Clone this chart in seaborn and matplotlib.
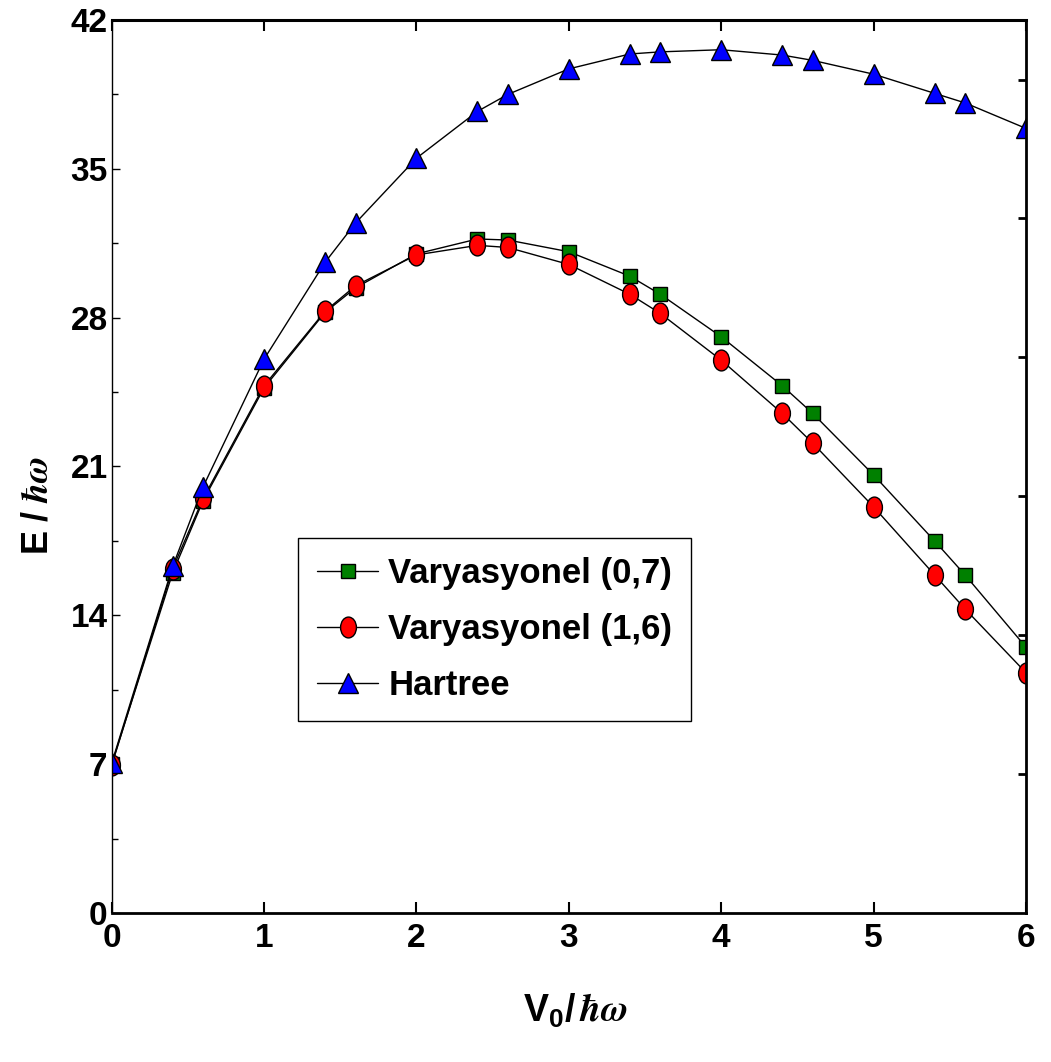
import numpy as np
import pandas as pd
import matplotlib
matplotlib.use("Agg")
import matplotlib.pyplot as plt
import seaborn as sns
from matplotlib.path import Path
from matplotlib.ticker import MultipleLocator, FixedLocator
from matplotlib import font_manager

# ---- data ----
v0 = [0.0, 0.4, 0.6, 1.0, 1.4, 1.6, 2.0, 2.4, 2.6, 3.0, 3.4, 3.6, 4.0, 4.4, 4.6, 5.0, 5.4, 5.6, 6.0]
var_07 = [7.0, 16.0, 19.4, 24.7, 28.25, 29.4, 31.0, 31.7, 31.65, 31.1, 29.95, 29.1, 27.1, 24.8, 23.5, 20.6, 17.5, 15.9, 12.5]
var_16 = [6.95, 16.2, 19.5, 24.8, 28.3, 29.5, 30.95, 31.4, 31.3, 30.5, 29.1, 28.2, 26.0, 23.5, 22.1, 19.1, 15.9, 14.3, 11.3]
hartree = [7.05, 16.3, 20.05, 26.05, 30.6, 32.45, 35.5, 37.7, 38.5, 39.7, 40.4, 40.5, 40.6, 40.35, 40.1, 39.45, 38.55, 38.1, 36.9]

labels = ["Varyasyonel (0,7)", "Varyasyonel (1,6)", "Hartree"]
x_ticks = [0, 1, 2, 3, 4, 5, 6]
y_ticks = [0, 7, 14, 21, 28, 35, 42]
right_ticks = [7, 14, 21, 28, 35, 42]

sns.set_theme(style="white")
names = {f.name for f in font_manager.fontManager.ttflist}
narrow = "Liberation Sans Narrow" in names
main_font = "Liberation Sans Narrow" if narrow else "Liberation Sans"
plt.rcParams["font.family"] = [main_font, "Liberation Sans", "DejaVu Sans"]
plt.rcParams["font.weight"] = "bold"
for k in ["text.color", "axes.labelcolor", "xtick.color", "ytick.color", "axes.edgecolor"]:
    plt.rcParams[k] = "black"
plt.rcParams["mathtext.fontset"] = "custom"
plt.rcParams["mathtext.rm"] = "Liberation Sans:bold"
plt.rcParams["mathtext.bf"] = "Liberation Sans:bold"
plt.rcParams["mathtext.it"] = "STIXGeneral:italic"

df = pd.DataFrame({"v0": v0, "var07": var_07, "var16": var_16, "hartree": hartree})

fig = plt.figure(figsize=(10.51, 10.62), dpi=100)
ax = fig.add_axes([0.1063, 0.1403, 0.8699, 0.8409])

circ = Path.unit_circle()
ellipse = Path(circ.vertices * np.array([0.76, 1.0]), circ.codes)

common = dict(color="black", linewidth=1.0, markeredgecolor="black",
              markeredgewidth=1.0, errorbar=None, ax=ax)
sns.lineplot(data=df, x="v0", y="var07", marker="s", markersize=10,
             markerfacecolor="#008000", label=labels[0], **common)
sns.lineplot(data=df, x="v0", y="var16", marker=ellipse, markersize=15,
             markerfacecolor="#ff0000", label=labels[1], **common)
sns.lineplot(data=df, x="v0", y="hartree", marker="^", markersize=15,
             markerfacecolor="#0000ff", label=labels[2], **common)

ax.set_xlim(0, 6)
ax.set_ylim(0, 42)
ax.xaxis.set_major_locator(FixedLocator(x_ticks))
ax.yaxis.set_major_locator(FixedLocator(y_ticks))
ax.yaxis.set_minor_locator(MultipleLocator(3.5))
tick_fs = 24
ax.set_xticklabels([str(t) for t in x_ticks], fontsize=tick_fs, fontweight="bold", color="black")
ax.set_yticklabels([str(t) for t in y_ticks], fontsize=tick_fs, fontweight="bold", color="black")

ax.tick_params(axis="x", which="major", direction="in", length=8, width=1.5,
               top=True, bottom=True, pad=7, colors="black")
ax.tick_params(axis="y", which="major", direction="in", length=6, width=1.0,
               left=True, right=False, pad=3, colors="black")
ax.tick_params(axis="y", which="minor", direction="in", length=4, width=1.0,
               left=True, right=False, colors="black")

for s, lw in {"left": 1.0, "top": 2.2, "bottom": 2.0}.items():
    ax.spines[s].set_linewidth(lw)
    ax.spines[s].set_color("black")
ax.spines["right"].set_visible(False)

ax2 = ax.twinx()
ax2.set_ylim(0, 45)
ax2.yaxis.set_major_locator(FixedLocator(right_ticks))
ax2.set_yticklabels([])
ax2.tick_params(axis="y", direction="in", length=6, width=2.0, right=True, colors="black")
for s in ["left", "top", "bottom"]:
    ax2.spines[s].set_visible(False)
ax2.spines["right"].set_linewidth(2.0)
ax2.spines["right"].set_color("black")
ax2.grid(False)

ax.set_xlabel(r"$\mathbf{V_0/}\,\hbar\omega$", fontsize=27, color="black")
ax.set_ylabel(r"$\mathbf{E\ /}\ \hbar\omega$", fontsize=26, color="black")
ax.xaxis.set_label_coords(0.507, -0.088)
ax.yaxis.set_label_coords(-0.062, 0.457)

leg_fs = 31 if narrow else 25
leg = ax.legend(loc="upper left", bbox_to_anchor=(0.2038, 0.4199), borderaxespad=0,
                prop={"weight": "bold", "size": leg_fs},
                frameon=True, fancybox=False, edgecolor="black", framealpha=1,
                handlelength=1.75, handletextpad=0.3, labelspacing=0.66, borderpad=0.55)
leg.get_frame().set_linewidth(1.0)
for t in leg.get_texts():
    t.set_color("black")
ax.grid(False)

fig.savefig("out.png", dpi=100)
